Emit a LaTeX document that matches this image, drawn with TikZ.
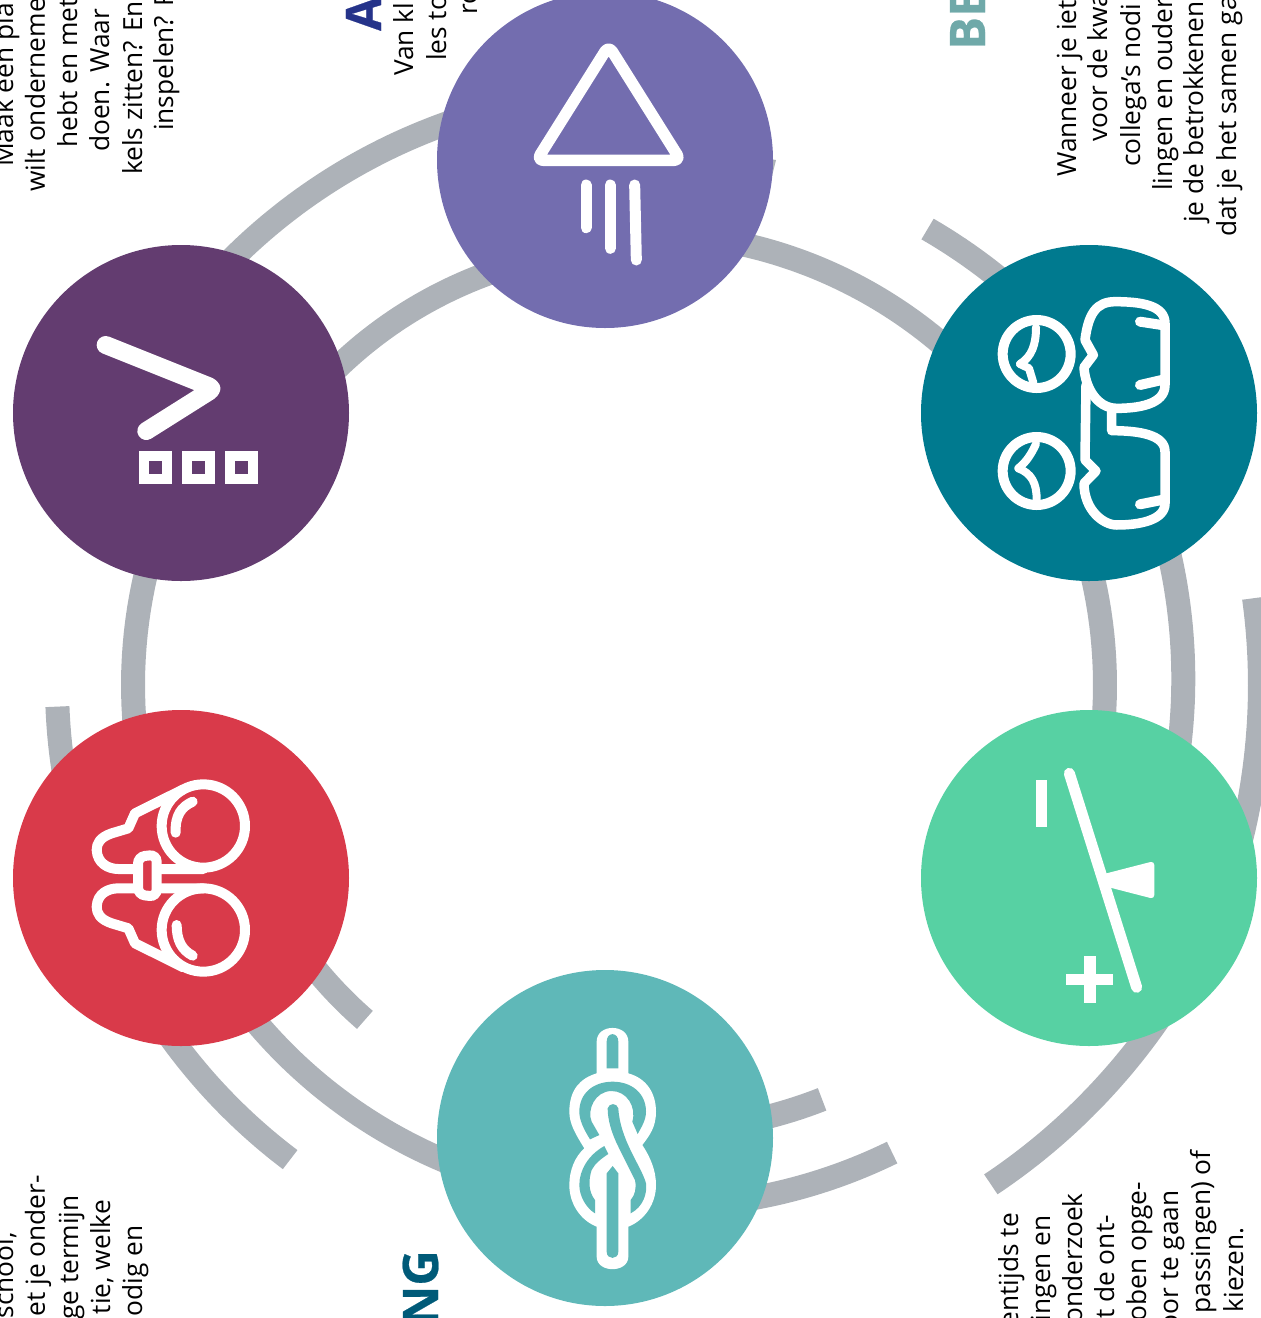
\documentclass[tikz,border=0pt]{standalone}
\usepackage{fontspec}
\setmainfont{Open Sans}
\newfontfamily\headfont{Open Sans}[BoldFeatures={FakeBold=0.5}]
\definecolor{ringgray}{HTML}{ADB2B8}
\definecolor{cpurple}{HTML}{736DAF}
\definecolor{cplum}{HTML}{633C70}
\definecolor{cteal}{HTML}{007A8F}
\definecolor{cgreen}{HTML}{57D1A3}
\definecolor{cturq}{HTML}{5FB8B8}
\definecolor{cred}{HTML}{D93A4A}
\definecolor{hblue}{HTML}{25338A}
\definecolor{hlight}{HTML}{6FA9A9}
\definecolor{hdeep}{HTML}{005A78}
% radius r1 at angle a, r2 at angle b, about the common centre
\newcommand{\ringarc}[4]{\draw[ringline] plot[domain=#3:#4,samples=40] ({620+(#1+(#2-#1)*(\x-#3)/(#4-#3))*cos(\x)},{685+(#1+(#2-#1)*(\x-#3)/(#4-#3))*sin(\x)});}
\tikzset{
  ringline/.style={draw=ringgray,line width=24pt,line cap=butt},
  disc/.style={circle,minimum size=336pt,inner sep=0pt,draw=none},
  txtstart/.style={rotate=90,anchor=base west,inner sep=0pt,text=black,font=\fontsize{26.3}{32}\selectfont},
  txtend/.style={rotate=90,anchor=base east,inner sep=0pt,text=black,font=\fontsize{26.3}{32}\selectfont},
  headstart/.style={rotate=90,anchor=base west,inner sep=0pt,font=\headfont\fontsize{49}{50}\bfseries\selectfont},
  headend/.style={rotate=90,anchor=base east,inner sep=0pt,font=\headfont\fontsize{49}{50}\bfseries\selectfont},
  ico/.style={draw=white,line width=#1,line cap=round,line join=round},
  ico/.default=10pt
}
\begin{document}
\begin{tikzpicture}[x=1pt,y=-1pt]
\useasboundingbox (0,0) rectangle (1261,1318);
\clip (0,0) rectangle (1261,1318);
% arcs
\ringarc{487}{487}{156}{212}
\ringarc{424}{436}{225}{265}
\ringarc{575}{590}{225}{258}
\ringarc{456}{470}{282}{316}
\ringarc{550}{558}{304}{316}
\ringarc{485}{485}{-30}{22}
\ringarc{565}{562}{-16}{12}
\ringarc{640}{640}{-7.8}{14}
\ringarc{636}{622}{28}{53.4}
\ringarc{461}{452}{64}{78}
\ringarc{541}{527}{59.8}{80}
\ringarc{508}{495}{108}{140}
\ringarc{421}{415}{127.3}{140}
\ringarc{578}{568}{124.8}{150}
\ringarc{563}{563}{170}{177.8}
\fill[ringgray] (770,159) -- (776,160) -- (772,176) -- cycle;
% discs
\node[disc,fill=cpurple] (dPurple) at (605,160) {};
\node[disc,fill=cteal] (dTeal) at (1089,413) {};
\node[disc,fill=cgreen] (dGreen) at (1089,878) {};
\node[disc,fill=cturq] (dTurq) at (605,1138) {};
\node[disc,fill=cred] (dRed) at (181,878) {};
\node[disc,fill=cplum] (dPlum) at (181,413) {};
% texts top-left
\node[txtstart] (a1) at (13,167) {Maak een pla};
\node[txtstart] (a2) at (45,192) {wilt onderneme};
\node[txtstart] (a3) at (77,148) {hebt en met};
\node[txtstart] (a4) at (109,152) {doen. Waar l};
\node[txtstart] (a5) at (142,175) {kels zitten? En};
\node[txtstart] (a6) at (173,131) {inspelen? F};
% top centre
\node[headstart,text=hblue] (b0) at (381,31) {A};
\node[txtstart] (b1) at (413,76) {Van kl};
\node[txtstart] (b2) at (446,61) {les to};
\node[txtstart] (b3) at (477,15) {ro};
% top right
\node[headstart,text=hlight] (c0) at (985,50) {BE};
\node[txtstart] (c1) at (1076,177) {Wanneer je iet};
\node[txtstart] (c2) at (1107,142) {voor de kwa};
\node[txtstart] (c3) at (1140,167) {collega’s nodi};
\node[txtstart] (c4) at (1172,191) {lingen en ouder};
\node[txtstart] (c5) at (1203,223) {je de betrokkenen};
\node[txtstart] (c6) at (1236,237) {dat je het samen ga};
% bottom right
\node[txtend] (d1) at (1018,1213) {entijds te};
\node[txtend] (d2) at (1050,1215) {ingen en};
\node[txtend] (d3) at (1082,1193) {onderzoek};
\node[txtend] (d4) at (1114,1215) {t de ont-};
\node[txtend] (d5) at (1146,1182) {oben opge-};
\node[txtend] (d6) at (1178,1190) {oor te gaan};
\node[txtend] (d7) at (1210,1150) {passingen) of};
\node[txtend] (d8) at (1243,1227) {kiezen.};
% bottom left
\node[txtend] (e1) at (13,1232) {school,};
\node[txtend] (e2) at (45,1175) {et je onder-};
\node[txtend] (e3) at (78,1195) {ge termijn};
\node[txtend] (e4) at (110,1200) {tie, welke};
\node[txtend] (e5) at (142,1225) {odig en};
\node[headend,text=hdeep] (f0) at (438,1250) {NG};
% triangle icon
\begin{scope}[shift={(520,30)},x=.33333pt,y=-.33333pt]
\draw[ico=11.5pt,rounded corners=7pt] (266,47) -- (482,391) -- (50,391) -- cycle;
\draw[ico=11pt] (198,465) -- (198,593);
\draw[ico=11pt] (271,465) -- (271,655);
\draw[ico=11pt] (344,465) -- (349,690);
\end{scope}
% chevron icon
\begin{scope}[shift={(80,320)},x=.33333pt,y=-.33333pt]
\draw[ico=18pt,rounded corners=5pt] (77,75) -- (402,205) -- (199,333);
\draw[draw=white,line width=10pt] (192.5,409) rectangle (260,477.5);
\draw[draw=white,line width=10pt] (322,409) rectangle (389,477.5);
\draw[draw=white,line width=10pt] (451,409) rectangle (518,477.5);
\end{scope}
% glasses icon
\begin{scope}[shift={(960,270)},x=.33333pt,y=-.33333pt]
\draw[draw=white,line width=10pt] (230,252) circle (102);
\draw[draw=white,line width=10pt] (230,603) circle (102);
\draw[ico=8pt] (228,172) .. controls (228,225) and (215,260) .. (180,282);
\draw[ico=8pt] (180,282) -- (207,295) -- (220,338);
\draw[ico=8pt] (228,522) .. controls (215,550) and (200,575) .. (175,595);
\draw[ico=8pt] (175,595) .. controls (215,610) and (230,640) .. (230,688);
\draw[ico=9.5pt] (375,210) .. controls (385,130) and (410,95) .. (465,95) .. controls (540,95) and (615,105) .. (615,160) -- (615,345) .. controls (615,405) and (530,415) .. (470,415) .. controls (410,415) and (375,350) .. (372,292) -- (400,255) -- cycle;
\draw[ico=10pt] (540,155) -- (605,165);
\draw[ico=10pt] (540,345) -- (605,330);
\draw[ico=9.5pt] (378,345) -- (375,570) -- (408,603) -- (372,640) .. controls (372,720) and (430,765) .. (470,765) .. controls (540,765) and (615,750) .. (615,700) -- (615,545) .. controls (615,495) and (540,482) .. (455,482) -- (455,420);
\draw[ico=10pt] (540,703) -- (605,690);
\end{scope}
% binoculars icon
\begin{scope}[shift={(60,760)},x=.33333pt,y=-.33333pt]
\draw[draw=white,line width=10pt] (430,198) circle (125);
\draw[draw=white,line width=10pt] (430,510) circle (125);
\draw[ico=10pt] (370,88) -- (225,160) -- (205,205) -- (155,220) .. controls (120,232) and (110,250) .. (110,270) .. controls (112,310) and (145,327) .. (175,327) -- (430,327);
\draw[ico=10pt] (370,622) -- (225,550) -- (205,505) -- (155,490) .. controls (120,478) and (110,460) .. (110,440) .. controls (112,400) and (145,385) .. (175,385) -- (430,385);
\draw[draw=white,line width=10pt,rounded corners=7pt,fill=cred] (234,290) -- (290,284) -- (290,410) -- (234,404) -- cycle;
\draw[ico=10pt] (398,125) .. controls (365,140) and (345,165) .. (347,218);
\draw[ico=10pt] (350,495) .. controls (350,540) and (365,570) .. (398,587);
\end{scope}
% knot icon
\begin{scope}[shift={(540,1010)},x=.33333pt,y=-.33333pt]
\fill[white] (170,740) -- (170,650) .. controls (120,630) and (88,580) .. (88,525) .. controls (88,480) and (105,440) .. (133,415) .. controls (105,370) and (88,340) .. (88,305) .. controls (88,240) and (120,205) .. (170,190) -- (170,95) .. controls (170,40) and (265,40) .. (265,95) -- (265,190) .. controls (320,205) and (348,250) .. (348,305) .. controls (348,350) and (330,375) .. (307,405) .. controls (330,440) and (348,480) .. (348,525) .. controls (348,580) and (315,630) .. (265,650) -- (265,740) .. controls (265,790) and (170,790) .. (170,740) -- cycle;
\fill[cturq] (200,175) -- (200,95) .. controls (200,65) and (235,65) .. (235,95) -- (235,175) -- cycle;
\fill[cturq] (150,388) .. controls (130,355) and (118,330) .. (118,305) .. controls (118,250) and (160,215) .. (218,215) .. controls (275,215) and (318,250) .. (318,305) .. controls (318,330) and (305,350) .. (293,372) -- (277,335) .. controls (290,290) and (260,243) .. (215,243) .. controls (165,243) and (140,300) .. (155,335) -- (178,375) -- cycle;
\fill[cturq] (203,295) .. controls (203,330) and (215,370) .. (235,410) -- (285,510) .. controls (290,535) and (285,555) .. (272,570) -- (272,610) .. controls (310,590) and (322,550) .. (318,520) .. controls (305,470) and (240,390) .. (235,295) .. controls (230,278) and (208,278) .. (203,295) -- cycle;
\fill[cturq] (193,408) .. controls (145,435) and (118,480) .. (118,525) .. controls (118,560) and (140,595) .. (165,610) -- (165,570) .. controls (145,545) and (145,510) .. (155,480) .. controls (165,460) and (185,445) .. (205,432) -- cycle;
\fill[cturq] (200,490) -- (218,468) -- (235,490) -- (235,725) .. controls (235,750) and (200,750) .. (200,725) -- cycle;
\end{scope}
% seesaw icon
\begin{scope}[shift={(1020,750)},x=.33333pt,y=-.33333pt]
\draw[ico=11pt] (148,70) -- (350,712);
\fill[white,rounded corners=4pt] (240,375) -- (403,333) -- (403,447) -- (240,405) -- cycle;
\fill[white] (48,90) rectangle (82,230);
\fill[white] (138,672) rectangle (280,705);
\fill[white] (193,618) rectangle (227,758);
\end{scope}
\end{tikzpicture}
\end{document}
